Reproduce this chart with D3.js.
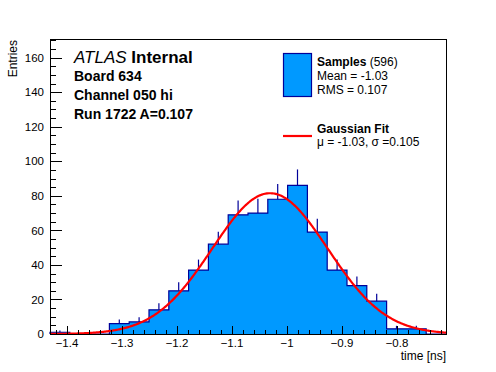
<!DOCTYPE html>
<html lang="en">
<head>
    <meta charset="utf-8">
    <title>Board 634 timing</title>
    <script src="https://cdn.jsdelivr.net/npm/d3@7/dist/d3.min.js"></script>
    <style>
        body { margin: 0; background: #fff; }
        svg { font-family: "Liberation Sans", Arial, Helvetica, sans-serif; }
        .axis path.domain { display: none; }
        .axis line { stroke: #000; shape-rendering: crispEdges; }
    </style>
</head>
<body>
    <div id="chart"></div>
    <script>
        // histogram of time [ns], 20 bins
        const binLow = -1.43;
        const binWidth = 0.036;
        const counts = [1, 0, 0, 6, 7, 14, 25, 37, 52, 69, 70, 78, 86, 59, 37, 28, 19, 3, 3, 0];

        // fit parameters (from the legend)
        const fitMean = -1.03;
        const fitSigma = 0.105;
        const fitAmp = 81.5;

        const xMajor = [-1.4, -1.3, -1.2, -1.1, -1.0, -0.9, -0.8];
        const xMajorLabels = ["\u22121.4", "\u22121.3", "\u22121.2", "\u22121.1", "\u22121", "\u22120.9", "\u22120.8"];
        const yMajor = [0, 20, 40, 60, 80, 100, 120, 140, 160];

        const infoLines = ["Board 634", "Channel 050 hi", "Run 1722 A=0.107"];

        const width = 496, height = 372;
        const padL = 50, padR = 446, padT = 39.5, padB = 334;

        const svg = d3.select("#chart").append("svg")
            .attr("width", width)
            .attr("height", height);

        const x = d3.scaleLinear()
            .domain([binLow, binLow + binWidth * counts.length])
            .range([padL, padR]);
        const y = d3.scaleLinear()
            .domain([0, 170.5])
            .range([padB, padT]);

        const navy = "#000099";
        const fillBlue = "#0099ff";

        // histogram as a step path
        const pts = [[x(binLow), y(0)]];
        counts.forEach((c, i) => {
            const x0 = x(binLow + i * binWidth), x1 = x(binLow + (i + 1) * binWidth);
            pts.push([x0, y(c)], [x1, y(c)]);
        });
        pts.push([x(binLow + counts.length * binWidth), y(0)]);

        svg.append("path")
            .attr("d", d3.line()(pts))
            .attr("fill", fillBlue)
            .attr("stroke", navy)
            .attr("stroke-width", 1.2);

        // error bars (upper half shows above the fill)
        svg.append("g").selectAll("line")
            .data(counts.map((c, i) => ({ c, i })).filter(d => d.c > 0))
            .enter().append("line")
            .attr("x1", d => x(binLow + (d.i + 0.5) * binWidth))
            .attr("x2", d => x(binLow + (d.i + 0.5) * binWidth))
            .attr("y1", d => y(d.c))
            .attr("y2", d => y(d.c + Math.sqrt(d.c)))
            .attr("stroke", navy)
            .attr("stroke-width", 1.2);

        // gaussian fit curve
        const fitXs = d3.range(0, 401).map(k => binLow + k * (binWidth * counts.length) / 400);
        const gauss = v => fitAmp * Math.exp(-0.5 * Math.pow((v - fitMean) / fitSigma, 2));
        svg.append("path")
            .attr("d", d3.line().x(v => x(v)).y(v => y(gauss(v)))(fitXs))
            .attr("fill", "none")
            .attr("stroke", "#ff0000")
            .attr("stroke-width", 2.2);

        // axes
        const xAxisG = svg.append("g").attr("class", "axis")
            .attr("transform", `translate(0,${padB})`);
        xAxisG.call(d3.axisBottom(x).tickValues(d3.range(-1.42, -0.71, 0.02)).tickSize(-4).tickFormat(""));
        xAxisG.append("g").call(d3.axisBottom(x).tickValues(xMajor).tickSize(-8).tickPadding(5)
            .tickFormat((d, i) => xMajorLabels[i]));
        xAxisG.selectAll("text").attr("font-size", 11.5).attr("fill", "#000").attr("font-family", null);

        const yAxisG = svg.append("g").attr("class", "axis")
            .attr("transform", `translate(${padL},0)`);
        yAxisG.call(d3.axisLeft(y).tickValues(d3.range(0, 171, 5)).tickSize(-6).tickFormat(""));
        yAxisG.append("g").call(d3.axisLeft(y).tickValues(yMajor).tickSize(-12).tickPadding(6));
        yAxisG.selectAll("text").attr("font-size", 11.5).attr("fill", "#000").attr("font-family", null);

        // frame
        svg.append("rect")
            .attr("x", padL).attr("y", padT)
            .attr("width", padR - padL).attr("height", padB - padT)
            .attr("fill", "none").attr("stroke", "#000")
            .attr("shape-rendering", "crispEdges");

        // axis titles
        svg.append("text")
            .attr("x", padR).attr("y", 359.5)
            .attr("text-anchor", "end")
            .attr("font-size", 12)
            .text("time [ns]");
        svg.append("text")
            .attr("transform", "translate(17,40) rotate(-90)")
            .attr("text-anchor", "end")
            .attr("font-size", 12)
            .text("Entries");

        // ATLAS label
        const atlas = svg.append("text").attr("x", 74).attr("y", 63).attr("font-size", 17);
        atlas.append("tspan").attr("font-style", "italic").text("ATLAS");
        atlas.append("tspan").attr("font-weight", "bold").text(" Internal");

        svg.append("g").selectAll("text")
            .data(infoLines)
            .enter().append("text")
            .attr("x", 74)
            .attr("y", (d, i) => 80.5 + i * 19)
            .attr("font-size", 14)
            .attr("font-weight", "bold")
            .text(d => d);

        // legend
        const lg = svg.append("g");
        lg.append("rect")
            .attr("x", 283.5).attr("y", 53.5).attr("width", 28).attr("height", 43)
            .attr("fill", fillBlue).attr("stroke", navy).attr("stroke-width", 1.2);
        const s1 = lg.append("text").attr("x", 317).attr("y", 65.5).attr("font-size", 12);
        s1.append("tspan").attr("font-weight", "bold").text("Samples");
        s1.append("tspan").text(" (596)");
        lg.append("text").attr("x", 317).attr("y", 79.5).attr("font-size", 12).text("Mean = -1.03");
        lg.append("text").attr("x", 317).attr("y", 94).attr("font-size", 12).text("RMS = 0.107");

        lg.append("line")
            .attr("x1", 283).attr("x2", 312).attr("y1", 136).attr("y2", 136)
            .attr("stroke", "#ff0000").attr("stroke-width", 2.2);
        lg.append("text").attr("x", 317).attr("y", 132.5).attr("font-size", 12)
            .attr("font-weight", "bold").text("Gaussian Fit");
        lg.append("text").attr("x", 317).attr("y", 146).attr("font-size", 12)
            .text("\u03bc = -1.03, \u03c3 =0.105");
    </script>
</body>
</html>
